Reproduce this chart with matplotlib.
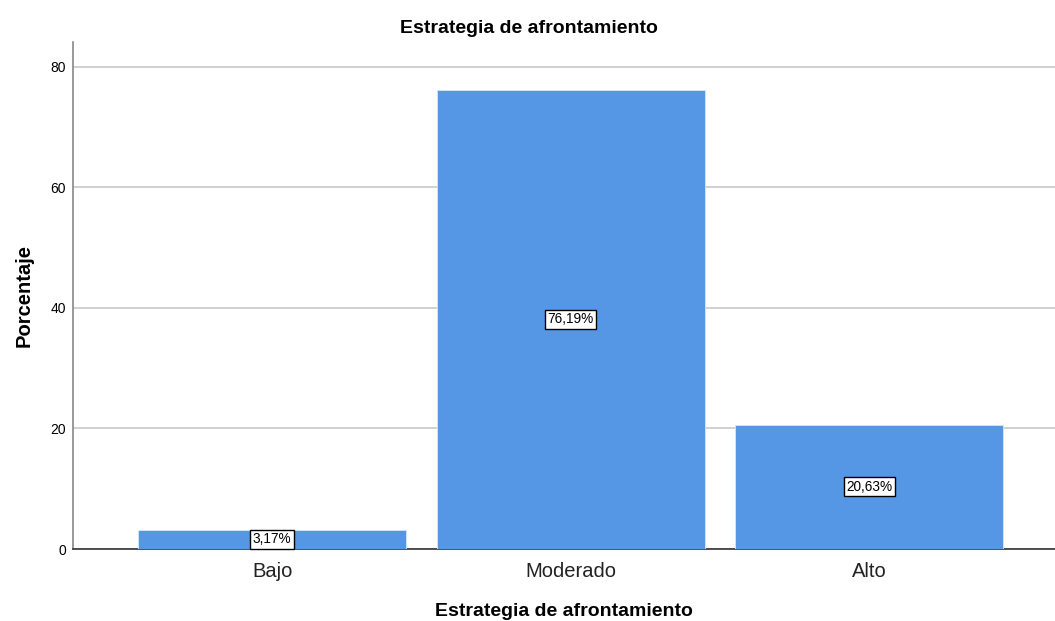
import matplotlib.pyplot as plt

plt.rcParams['font.family'] = ['Liberation Sans', 'DejaVu Sans']

categorias = ["Bajo", "Moderado", "Alto"]
porcentajes = [3.17, 76.19, 20.63]
etiquetas = ["3,17%", "76,19%", "20,63%"]
y_ticks = [0, 20, 40, 60, 80]

fig = plt.figure(figsize=(10.55, 6.21), dpi=100)
ax = fig.add_axes([0.0692, 0.1159, 0.9308, 0.8165])

pos = list(range(len(categorias)))
bars = ax.bar(pos, porcentajes, width=0.898, color="#5596e5", edgecolor="#d8e6f8",
              linewidth=0.6, zorder=3)

for x, v, t in zip(pos, porcentajes, etiquetas):
    ax.text(x, v / 2, t, ha="center", va="center", fontsize=9.8, zorder=4,
            bbox=dict(boxstyle="square,pad=0.18", facecolor="white", edgecolor="black", linewidth=1.0))

ax.set_xlim(-0.667, 2.623)
ax.set_ylim(0, 84.1)
ax.set_yticks(y_ticks)
ax.set_xticks(pos)
ax.set_xticklabels(categorias, fontsize=14.5)
ax.tick_params(axis="y", length=0, labelsize=10, pad=5)
ax.tick_params(axis="x", length=0, pad=9, colors="#222222")
ax.yaxis.grid(True, color="#c8c8c8", linewidth=1.2, zorder=0)
ax.set_axisbelow(True)

for s in ["top", "right"]:
    ax.spines[s].set_visible(False)
ax.spines["left"].set_color("#888888")
ax.spines["left"].set_linewidth(1.2)
ax.spines["bottom"].set_color("#333333")
ax.spines["bottom"].set_linewidth(1.2)

# titulo centrado en la figura, no en los ejes
fig.text(0.5015, 1 - 28.5 / 621, "Estrategia de afrontamiento", ha="center", va="center",
         fontsize=14, fontweight="bold")
ax.set_xlabel("Estrategia de afrontamiento", fontsize=14, fontweight="bold", labelpad=16)
ax.set_ylabel("Porcentaje", fontsize=14.5, fontweight="bold", labelpad=12)

fig.savefig("out.png", dpi=100)
